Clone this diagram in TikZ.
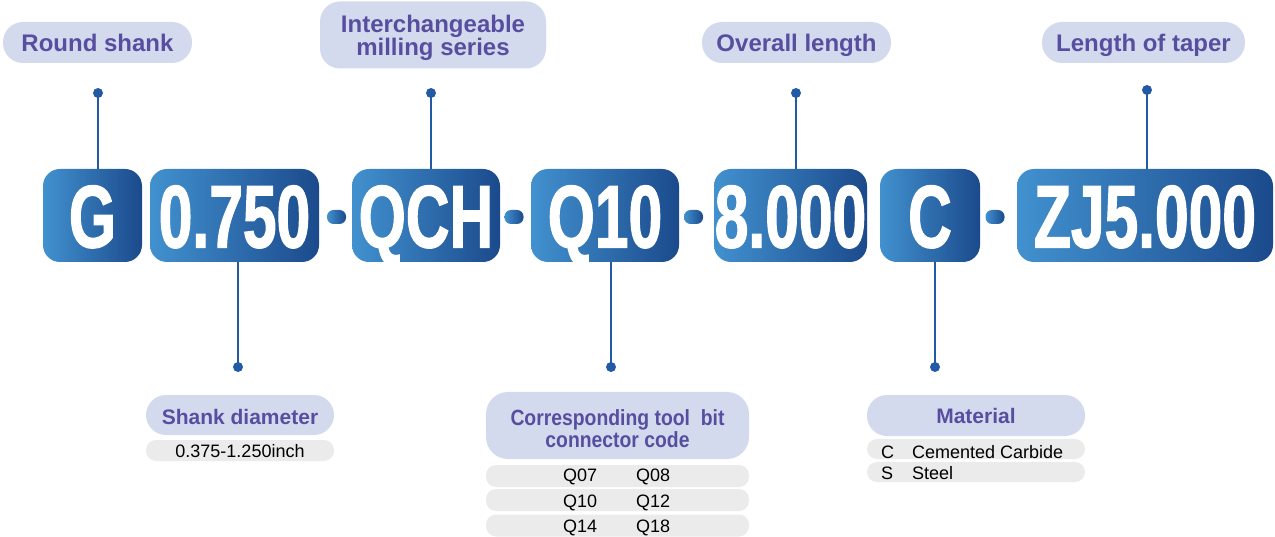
\documentclass[tikz,border=0pt]{standalone}
\usepackage{fontspec}
\setmainfont{Liberation Sans}
\newfontfamily\codefont[FakeStretch=0.68,FakeBold=1.3]{Liberation Sans}
\newfontfamily\condfont[FakeStretch=0.88]{Liberation Sans}
\definecolor{boxL}{RGB}{66,145,207}
\definecolor{boxR}{RGB}{27,74,140}
\definecolor{pillc}{RGB}{212,218,238}
\definecolor{labc}{RGB}{88,78,160}
\definecolor{rowc}{RGB}{235,235,235}
\definecolor{linec}{RGB}{35,90,165}
\begin{document}
\begin{tikzpicture}[x=1pt,y=-1pt,
  codebox/.style={left color=boxL, right color=boxR, rounded corners=17pt, minimum height=93pt, inner sep=0pt, text=white, font=\codefont\bfseries\fontsize{89}{89}\selectfont, text height=64pt, text depth=0pt},
  dashpill/.style={left color=boxL, right color=boxR, rounded corners=6.5pt, minimum width=19pt, minimum height=14pt, inner sep=0pt},
  toplab/.style={fill=pillc, rounded corners=20pt, inner sep=0pt, text=labc, align=center, font=\bfseries\fontsize{24}{23}\selectfont, text height=19pt, text depth=0pt},
  botlab/.style={fill=pillc, rounded corners=20pt, inner sep=0pt, text=labc, align=center, font=\bfseries\fontsize{21}{22}\selectfont, text depth=0pt},
  labtxt/.style={inner sep=0pt, text=labc, align=center},
  rowbar/.style={fill=rowc, rounded corners=10pt, inner sep=0pt},
  rowtxt/.style={inner sep=0pt, font=\fontsize{18}{18}\selectfont, text=black},
  conn/.style={draw=linec, line width=2pt},
  dotc/.style={fill=linec}
]
\useasboundingbox (0,0) rectangle (1275,537);

% code boxes
\node[codebox, minimum width=99pt] (g) at (92.5,215.5) {G};
\node[codebox, minimum width=169pt] (dia) at (234.5,215.5) {0.750};
\node[codebox, minimum width=148pt] (qch) at (426,215.5) {QCH};
\node[codebox, minimum width=148pt] (q10) at (605,215.5) {Q10};
\node[codebox, minimum width=153pt] (len) at (790.5,215.5) {8.000};
\node[codebox, minimum width=100pt] (mat) at (930,215.5) {C};
\node[codebox, minimum width=256pt] (zj) at (1145,215.5) {ZJ5.000};

% separators
\node[dashpill] (s1) at (336.5,217) {};
\node[dashpill] (s2) at (514,217) {};
\node[dashpill] (s3) at (693.5,217) {};
\node[dashpill] (s4) at (995,217) {};

% top labels
\node[toplab, minimum width=189pt, minimum height=41pt] (lround) at (97.5,42.5) {Round shank};
\node[fill=pillc, rounded corners=20pt, minimum width=226pt, minimum height=67pt] (linter) at (433,35) {};
\node[labtxt, font=\bfseries\fontsize{24}{23}\selectfont] (tinter) at (433,37.5) {Interchangeable\\milling series};
\node[toplab, minimum width=189pt, minimum height=41pt] (loverall) at (796.5,42.5) {Overall length};
\node[toplab, minimum width=203pt, minimum height=41pt] (ltaper) at (1143.5,42.5) {Length of taper};

% top connectors
\coordinate (p1) at (98,93);
\coordinate (p2) at (431,93);
\coordinate (p3) at (796,93);
\coordinate (p4) at (1147,90);
\draw[conn] (p1) -- (p1 |- g.north);
\draw[conn] (p2) -- (p2 |- qch.north);
\draw[conn] (p3) -- (p3 |- len.north);
\draw[conn] (p4) -- (p4 |- zj.north);
\foreach \p in {p1,p2,p3,p4} \fill[dotc] (\p) circle (5pt);

% bottom connectors
\coordinate (b1) at (238,367);
\coordinate (b2) at (611,367);
\coordinate (b3) at (935,367);
\draw[conn] (b1 |- dia.south) -- (b1);
\draw[conn] (b2 |- q10.south) -- (b2);
\draw[conn] (b3 |- mat.south) -- (b3);
\foreach \p in {b1,b2,b3} \fill[dotc] (\p) circle (5pt);

% shank diameter
\node[botlab, minimum width=188pt, minimum height=40pt, text height=19pt] (lshank) at (240,415) {Shank diameter};
\node[rowbar, minimum width=188pt, minimum height=21pt] (rshank) at (240,450.5) {};
\node[rowtxt, anchor=base] (tshank) at (240,457) {0.375-1.250inch};

% corresponding code
\node[fill=pillc, rounded corners=22pt, minimum width=263pt, minimum height=67pt] (lcode) at (617.5,425.5) {};
\node[labtxt, font=\condfont\bfseries\fontsize{22}{22}\selectfont] (tcode) at (617.5,428.5) {Corresponding tool\ \ bit\\connector code};
\node[rowbar, minimum width=263pt, minimum height=22pt] (rc1) at (617.5,476) {};
\node[rowbar, minimum width=263pt, minimum height=22pt] (rc2) at (617.5,500) {};
\node[rowbar, minimum width=263pt, minimum height=22pt] (rc3) at (617.5,525.5) {};
\node[rowtxt, anchor=base west] (c1a) at (563,481) {Q07};
\node[rowtxt, anchor=base west] (c1b) at (636,481) {Q08};
\node[rowtxt, anchor=base west] (c2a) at (563,507) {Q10};
\node[rowtxt, anchor=base west] (c2b) at (636,507) {Q12};
\node[rowtxt, anchor=base west] (c3a) at (563,532) {Q14};
\node[rowtxt, anchor=base west] (c3b) at (636,532) {Q18};

% material
\node[botlab, minimum width=218pt, minimum height=41pt, text height=15pt] (lmat) at (976,415.5) {Material};
\node[rowbar, minimum width=218pt, minimum height=20pt] (rm1) at (976,449) {};
\node[rowbar, minimum width=218pt, minimum height=20pt] (rm2) at (976,472) {};
\node[rowtxt, anchor=base west] (m1a) at (881,458) {C};
\node[rowtxt, anchor=base west] (m1b) at (912,458) {Cemented Carbide};
\node[rowtxt, anchor=base west] (m2a) at (881,479) {S};
\node[rowtxt, anchor=base west] (m2b) at (912,479) {Steel};
\end{tikzpicture}
\end{document}
